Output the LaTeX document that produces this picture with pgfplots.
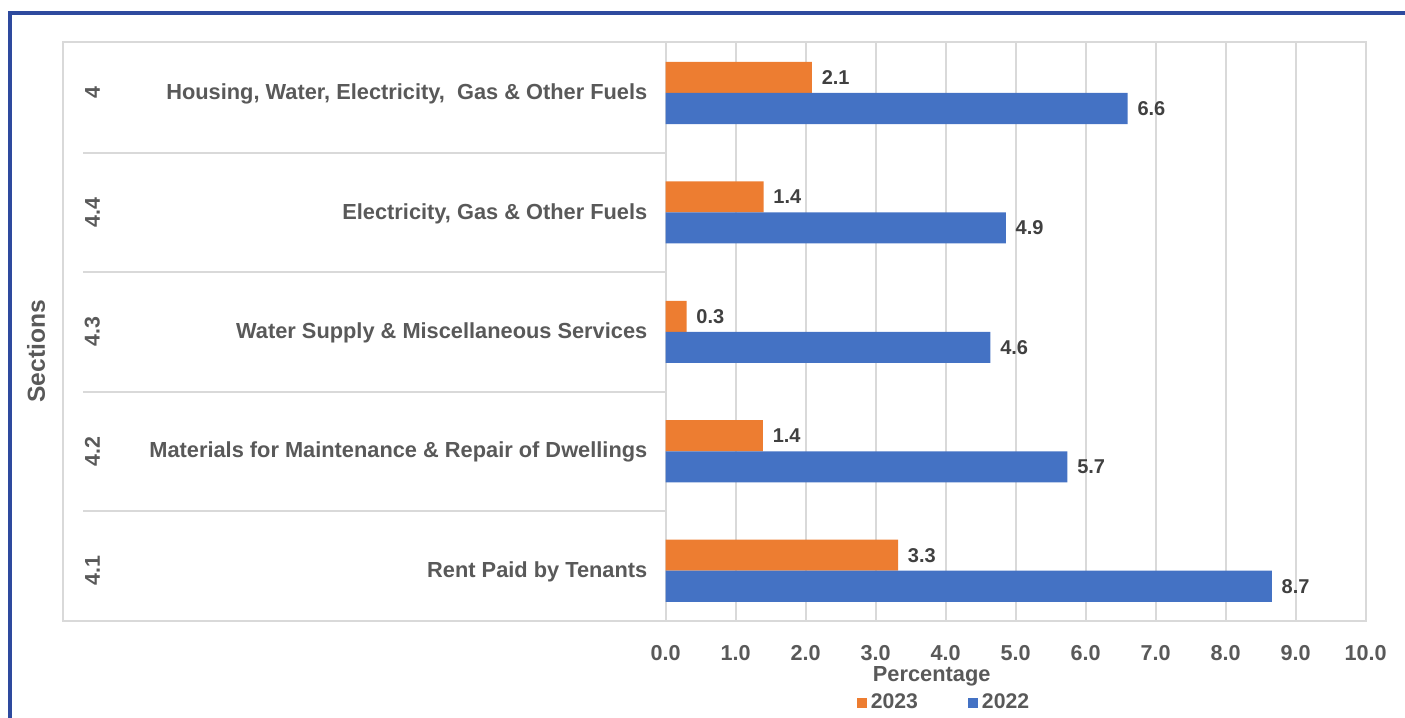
\documentclass[border=0pt]{standalone}
\usepackage{fontspec}
\setmainfont{Liberation Sans}
\usepackage{pgfplots}
\pgfplotsset{compat=1.18}
\definecolor{cOrange}{HTML}{ED7D31}
\definecolor{cBlue}{HTML}{4472C4}
\definecolor{cGrid}{HTML}{D9D9D9}
\definecolor{cText}{HTML}{595959}
\definecolor{cLabel}{HTML}{404040}
\definecolor{cFrame}{HTML}{2E4A9E}
\begin{document}
\begin{tikzpicture}
\path[use as bounding box] (0,0) rectangle (702.5pt,359pt);
\draw[cFrame, line width=1.6pt] (5pt,0) -- (5pt,352.5pt) -- (702.5pt,352.5pt);
\begin{axis}[
  at={(332.85pt,48.5pt)}, anchor=south west,
  scale only axis, width=350pt, height=289.5pt,
  xbar, xmin=0, xmax=10, ymin=-0.421, ymax=4.427,
  bar width=0.26,
  xtick={0,1,2,3,4,5,6,7,8,9,10},
  ytick={0,1,2,3,4},
  yticklabels={Rent Paid by Tenants, Materials for Maintenance \& Repair of Dwellings, Water Supply \& Miscellaneous Services, {Electricity, Gas \& Other Fuels}, {Housing, Water, Electricity,~~Gas \& Other Fuels}},
  major tick length=0pt,
  xmajorgrids, grid style={cGrid, line width=1pt},
  axis line style={cGrid, line width=1pt},
  /pgf/number format/fixed, /pgf/number format/fixed zerofill,
  /pgf/number format/precision=1, /pgf/number format/assume math mode=true,
  tick label style={font=\fontsize{10.8}{12}\selectfont\bfseries, text=cText},
  xticklabel style={inner sep=0pt, yshift=-12pt, anchor=north},
  yticklabel style={inner sep=0pt, xshift=-9pt, yshift=-0.5pt, anchor=east, font=\fontsize{10.9}{12}\selectfont\bfseries},
  point meta=x,
  nodes near coords,
  nodes near coords style={font=\fontsize{10}{12}\selectfont\bfseries, text=cLabel, anchor=west, inner sep=0pt, xshift=4.7pt},
  clip=false,
  legend image code/.code={\fill[#1] (0pt,-2.5pt) rectangle (5pt,2.5pt);},
  legend style={at={(0.399,-0.1416)}, anchor=center, draw=none, fill=none,
    font=\fontsize{10.6}{12}\selectfont\bfseries, text=cText,
    /tikz/every even column/.append style={column sep=23pt}},
  legend columns=2,
]
\addplot[fill=cOrange, draw=none, bar shift=0.13] coordinates {(3.32,0) (1.39,1) (0.30,2) (1.40,3) (2.09,4)};
\addplot[fill=cBlue, draw=none, bar shift=-0.13] coordinates {(8.66,0) (5.74,1) (4.64,2) (4.86,3) (6.60,4)};
\legend{2023,2022}
% grey frame around the label area
\draw[cGrid, line width=1pt] (rel axis cs:0,0) -- (rel axis cs:-0.861,0) -- (rel axis cs:-0.861,1) -- (rel axis cs:0,1);
\draw[cGrid, line width=1pt] ({rel axis cs:-0.832,0} |- {axis cs:0,0.5}) -- (axis cs:0,0.5);
\draw[cGrid, line width=1pt] ({rel axis cs:-0.832,0} |- {axis cs:0,1.5}) -- (axis cs:0,1.5);
\draw[cGrid, line width=1pt] ({rel axis cs:-0.832,0} |- {axis cs:0,2.5}) -- (axis cs:0,2.5);
\draw[cGrid, line width=1pt] ({rel axis cs:-0.832,0} |- {axis cs:0,3.5}) -- (axis cs:0,3.5);
% section numbers
\node[rotate=90, font=\fontsize{10.7}{12}\selectfont\bfseries, text=cText] at ({rel axis cs:-0.819,0} |- {axis cs:0,4}) {4};
\node[rotate=90, font=\fontsize{10.7}{12}\selectfont\bfseries, text=cText] at ({rel axis cs:-0.819,0} |- {axis cs:0,3}) {4.4};
\node[rotate=90, font=\fontsize{10.7}{12}\selectfont\bfseries, text=cText] at ({rel axis cs:-0.819,0} |- {axis cs:0,2}) {4.3};
\node[rotate=90, font=\fontsize{10.7}{12}\selectfont\bfseries, text=cText] at ({rel axis cs:-0.819,0} |- {axis cs:0,1}) {4.2};
\node[rotate=90, font=\fontsize{10.7}{12}\selectfont\bfseries, text=cText] at ({rel axis cs:-0.819,0} |- {axis cs:0,0}) {4.1};
\node[rotate=90, font=\fontsize{12.3}{14}\selectfont\bfseries, text=cText] at (rel axis cs:-0.8996,0.466) {Sections};
\node[font=\fontsize{10.9}{12}\selectfont\bfseries, text=cText] at (rel axis cs:0.38,-0.095) {Percentage};
\end{axis}
\end{tikzpicture}
\end{document}
